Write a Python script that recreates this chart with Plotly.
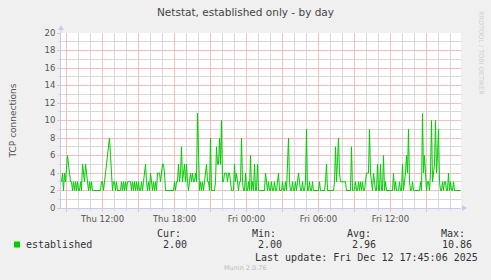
import pandas as pd
import plotly.graph_objects as go

# ---------------- data ----------------
series_name = "established"
start_time = "2025-12-11 08:32:30"
step_minutes = 5
established = [
    3, 4, 2, 4, 3, 5, 6, 5, 4, 3, 3, 2, 3, 2, 3, 2, 3, 2, 2, 3,
    2, 5, 4, 3, 5, 4, 3, 2, 3, 2, 3, 2, 2, 2, 2, 2, 2, 2, 2, 2,
    3, 3, 2, 3, 4, 5, 6, 7, 8, 6, 4, 2, 3, 3, 2, 3, 2, 2, 2, 2,
    3, 2, 3, 2, 3, 2, 3, 3, 3, 3, 2, 3, 2, 3, 2, 3, 2, 3, 2, 2,
    3, 2, 3, 4, 5, 3, 2, 3, 2, 4, 3, 2, 3, 2, 3, 2, 4, 4, 4, 3,
    4, 5, 5, 4, 2, 2, 2, 2, 2, 2, 2, 2, 2, 3, 2, 3, 3, 5, 3, 4,
    7, 3, 4, 5, 3, 5, 3, 2, 3, 4, 3, 4, 3, 3, 4, 3, 10.86, 4, 2, 3,
    2, 3, 2, 3, 4, 5, 3, 3, 2, 8, 2, 2, 2, 2, 3, 7, 5, 5, 8, 5,
    10, 3, 3, 4, 4, 4, 3, 4, 4, 3, 2, 2, 2, 5, 3, 4, 3, 2, 3, 3,
    8, 3, 2, 2, 4, 2, 2, 3, 2, 6, 2, 3, 2, 5, 2, 2, 5, 2, 2, 2,
    2, 2, 2, 2, 4, 3, 2, 3, 2, 2, 3, 2, 2, 3, 2, 2, 3, 4, 2, 2,
    2, 3, 2, 2, 3, 2, 5, 8, 3, 2, 2, 3, 2, 2, 3, 2, 3, 4, 3, 2,
    2, 3, 2, 2, 3, 9, 2, 2, 3, 2, 2, 3, 2, 2, 2, 2, 2, 2, 3, 2,
    2, 2, 2, 2, 3, 5, 2, 2, 2, 2, 2, 2, 2, 3, 7, 3, 5, 8, 4, 3,
    3, 3, 3, 3, 3, 2, 2, 2, 2, 2, 7, 2, 2, 2, 3, 2, 2, 3, 2, 3,
    2, 3, 2, 2, 3, 4, 4, 4, 9, 4, 3, 2, 4, 3, 2, 2, 5, 2, 2, 5,
    2, 2, 6, 2, 3, 2, 2, 2, 2, 2, 2, 2, 4, 2, 3, 2, 2, 2, 3, 2,
    2, 5, 2, 3, 4, 6, 4, 9, 3, 2, 2, 3, 2, 2, 2, 2, 2, 2, 2, 3,
    2, 10.8, 4, 6, 3, 2, 3, 3, 2, 4, 10, 3, 4, 5, 10, 4, 6, 9, 3, 2,
    2, 3, 2, 3, 3, 2, 2, 4, 2, 3, 2, 2, 3, 2, 2, 2, 2, 2, 2, 2,
]
x_range = ["2025-12-11 08:32:30", "2025-12-12 17:52:30"]
x_tick_times = ["2025-12-11 09:00", "2025-12-11 12:00", "2025-12-11 15:00",
                "2025-12-11 18:00", "2025-12-11 21:00", "2025-12-12 00:00",
                "2025-12-12 03:00", "2025-12-12 06:00", "2025-12-12 09:00",
                "2025-12-12 12:00", "2025-12-12 15:00"]
x_tick_labels = ["", "Thu 12:00", "", "Thu 18:00", "", "Fri 00:00",
                 "", "Fri 06:00", "", "Fri 12:00", ""]
y_tick_values = [0, 2, 4, 6, 8, 10, 12, 14, 16, 18, 20]
y_tick_labels = ["0", "2", "4", "6", "8", "10", "12", "14", "16", "18", "20"]
stat_names = ["Cur:", "Min:", "Avg:", "Max:"]
stat_values = ["2.00", "2.00", "2.96", "10.86"]
title_text = "Netstat, established only - by day"
y_title = "TCP connections"
last_update = "Last update: Fri Dec 12 17:45:06 2025"
footer = "Munin 2.0.76"
side_text = "RRDTOOL / TOBI OETIKER"

# ---------------- layout helpers (pixel -> paper) ----------------
W, H = 491, 280
L, R, T, B = 61, 461, 33, 208


def px(xp):
    return (xp - L) / (R - L)


def py(yp):
    return (B - yp) / (B - T)


times = pd.date_range(pd.Timestamp(start_time) + pd.Timedelta(minutes=step_minutes / 2),
                      periods=len(established), freq=f"{step_minutes}min")

# minor grid positions: hourly / unit, skipping the major ones
hours = pd.date_range("2025-12-11 08:00", "2025-12-12 18:00", freq="1h")
major_set = set(pd.to_datetime(x_tick_times))
x_minor = [h.strftime("%Y-%m-%d %H:%M") for h in hours if h not in major_set]
y_minor = [v for v in range(0, 21) if v not in y_tick_values]

GREEN = "#00CC00"
AXIS = "#C6CAF2"
MGRID = "#F5BDBD"
NGRID = "#D9D9D9"
TXT = "#555555"

fig = go.Figure()
fig.add_trace(go.Scatter(x=times, y=established, mode="lines",
                         line=dict(color=GREEN, width=1), showlegend=False,
                         name=series_name))

fig.update_layout(
    width=W, height=H,
    margin=dict(l=L, r=W - R, t=T, b=H - B, pad=0),
    paper_bgcolor="#F0F0F0", plot_bgcolor="#FFFFFF",
    font=dict(family="DejaVu Sans", color=TXT, size=8.5),
    title=dict(text=title_text, x=(245.5 - L) / (R - L), xref="paper", xanchor="center",
               y=1 - 12 / H, yref="container", yanchor="middle",
               font=dict(size=10.5, color="#444444", family="DejaVu Sans")),
)

fig.update_xaxes(
    type="date", range=x_range,
    tickmode="array", tickvals=x_tick_times, ticktext=x_tick_labels,
    showgrid=True, gridcolor=MGRID, gridwidth=1,
    ticks="outside", ticklen=3, tickcolor=MGRID, tickwidth=1,
    showline=True, linecolor=AXIS, linewidth=1,
    zeroline=False, tickfont=dict(size=8.5, color=TXT),
    minor=dict(tickmode="array", tickvals=x_minor,
               showgrid=True, gridcolor=NGRID, gridwidth=1,
               ticks="outside", ticklen=2, tickcolor=NGRID),
)
fig.update_yaxes(
    range=[0, 20], tickmode="array", tickvals=y_tick_values, ticktext=y_tick_labels,
    showgrid=True, gridcolor=MGRID, gridwidth=1,
    ticks="outside", ticklen=3, tickcolor=MGRID, tickwidth=1,
    showline=True, linecolor=AXIS, linewidth=1,
    zeroline=False, tickfont=dict(size=8.5, color=TXT),
    minor=dict(tickmode="array", tickvals=y_minor,
               showgrid=True, gridcolor=NGRID, gridwidth=1,
               ticks="outside", ticklen=2, tickcolor=NGRID),
    title=dict(text=y_title, font=dict(size=9, color=TXT), standoff=26),
)

# axis arrows (decoration)
shapes = [
    dict(type="path", xref="paper", yref="paper",
         path=f"M {px(462)} {py(205)} L {px(467)} {py(208)} L {px(462)} {py(211)} Z",
         fillcolor=AXIS, line=dict(width=0)),
    dict(type="line", xref="paper", yref="paper", x0=px(L), x1=px(L), y0=1, y1=py(28),
         line=dict(color=AXIS, width=1)),
    dict(type="path", xref="paper", yref="paper",
         path=f"M {px(58)} {py(30)} L {px(61)} {py(25)} L {px(64)} {py(30)} Z",
         fillcolor=AXIS, line=dict(width=0)),
    dict(type="rect", xref="paper", yref="paper",
         x0=px(14), x1=px(20), y0=py(247.5), y1=py(241.5),
         fillcolor=GREEN, line=dict(width=0)),
]
fig.update_layout(shapes=shapes)

MONO = "DejaVu Sans Mono"
ann = []


def text(t, x, y, anchor="left", size=10, color="#333333", family=MONO, angle=0):
    ann.append(dict(text=t, x=px(x), y=py(y), xref="paper", yref="paper",
                    xanchor=anchor, yanchor="middle", showarrow=False,
                    textangle=angle, borderpad=0,
                    font=dict(size=size, color=color, family=family)))


text(series_name, 25, 244)
name_x = [157, 252, 347, 441]
val_x = [163, 258, 352, 442]
for n, xx in zip(stat_names, name_x):
    text(n, xx - 1, 233)
for v, xx in zip(stat_values, val_x):
    text(v, xx - 1, 244)
text(last_update, 254, 257)
text(footer, 245, 268, anchor="center", size=6.5, color="#BBBBBB", family="DejaVu Sans")
text(side_text, 481, 53, anchor="center", size=6.5, color="#CFCFCF", family="DejaVu Sans", angle=90)
fig.update_layout(annotations=ann)

fig.write_html("out.html")
